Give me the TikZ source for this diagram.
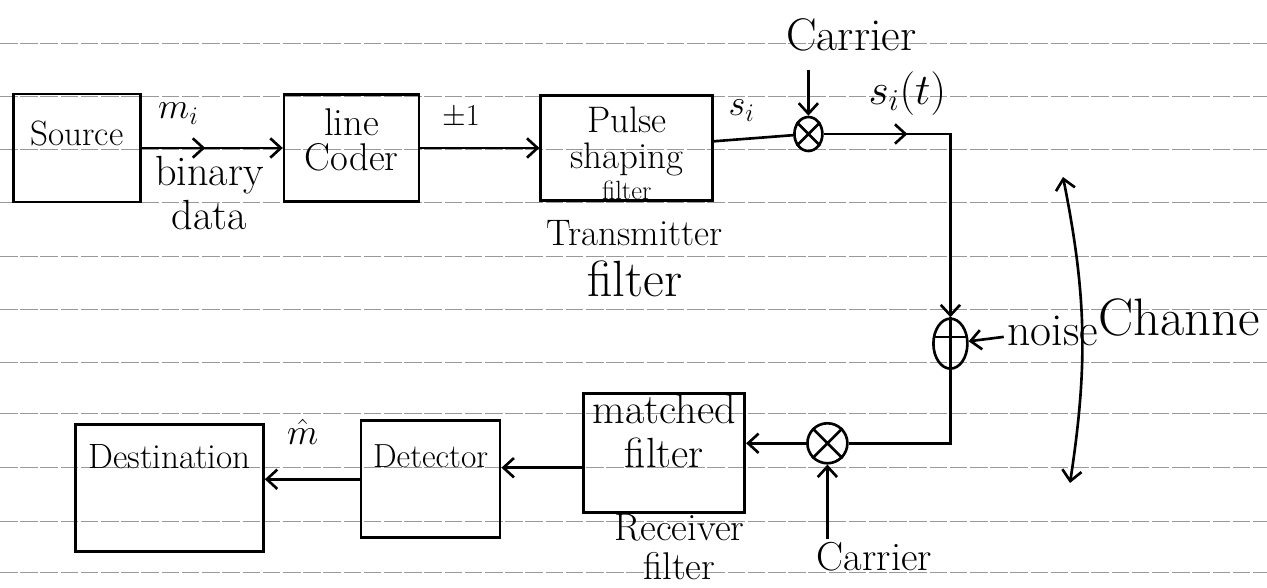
\documentclass[tikz,border=0pt]{standalone}
\usepackage{amsmath}
\usetikzlibrary{arrows.meta,positioning,shapes.geometric,decorations.markings}

\begin{document}
\begin{tikzpicture}[font=\fontsize{20}{23}\selectfont,
blk/.style={draw, line width=1.5pt, align=center, inner sep=2pt},
mixer/.style={draw, ellipse, line width=1.5pt, inner sep=0pt},
lbl/.style={align=center, inner sep=2pt},
wire/.style={line width=1.5pt},
arrow/.style={-{Straight Barb[length=6pt,width=11pt]}, line width=1.5pt},
midarrow/.style={postaction={decorate}, decoration={markings, mark=at position #1 with {\arrow{Straight Barb[length=6pt,width=11pt]}}}},
rule/.style={black!40, line width=0.5pt, dash pattern=on 10pt off 1.5pt}]
\useasboundingbox (0,0) rectangle (25.34,-11.76);
% ruled paper
\foreach \y in {43,96,149,202,256,309,362,413,467,521,572}
  \draw[rule] (0,{-0.02*\y}) -- (25.34,{-0.02*\y});
% transmitter
\node[blk, minimum width=2.54cm, minimum height=2.16cm] (source) at (1.54,-2.96) {Source\rule[-17pt]{0pt}{17pt}};
\node[blk, right=2.82cm of source, minimum width=2.70cm, minimum height=2.14cm, font=\fontsize{22}{20}\selectfont] (coder) {line\\Coder\rule[-10pt]{0pt}{10pt}};
\node[blk, right=2.38cm of coder, minimum width=3.44cm, minimum height=2.10cm, inner ysep=0pt, font=\fontsize{21}{20}\selectfont] (pulse) {\rule{0pt}{21pt}Pulse\\shaping\\[-2pt]{\fontsize{15}{15}\selectfont filter}};
\node[mixer, right=1.58cm of pulse, yshift=0.28cm, minimum width=0.56cm, minimum height=0.68cm] (mul1) {};
\node[lbl, below=0.3cm of pulse, xshift=0.16cm, font=\fontsize{29}{29}\selectfont] (txlbl) {{\fontsize{21}{29}\selectfont Transmitter}\\filter};
\node[lbl, above=1.22cm of mul1, xshift=0.86cm, font=\fontsize{26}{28}\selectfont] (carrtop) {Carrier};
% channel
\node[mixer, below=3.3cm of mul1, xshift=2.84cm, minimum width=0.68cm, minimum height=1.0cm] (adder) {};
\node[lbl, right=0.7cm of adder, yshift=0.26cm, font=\fontsize{26}{28}\selectfont] (noise) {noise};
\node[lbl, right=-0.16cm of noise, yshift=0.26cm, font=\fontsize{30}{32}\selectfont] (chan) {Channe};
\coordinate (chtop) at (21.26,-3.54);
\coordinate (chbot) at (21.40,-9.66);
% receiver
\node[mixer, below=1.04cm of adder, xshift=-2.46cm, minimum size=0.8cm] (mul2) {};
\node[blk, left=1.2cm of mul2, yshift=-0.2cm, minimum width=3.22cm, minimum height=2.38cm, inner ysep=0pt, font=\fontsize{24}{25}\selectfont] (matched) {matched\\filter\rule[-26pt]{0pt}{26pt}};
\node[blk, left=1.62cm of matched, yshift=-0.52cm, minimum width=2.78cm, minimum height=2.34cm, font=\fontsize{19}{22}\selectfont] (detector) {Detector\rule[-26pt]{0pt}{26pt}};
\node[blk, left=1.9cm of detector, yshift=-0.18cm, minimum width=3.76cm, minimum height=2.54cm] (dest) {Destination\rule[-36pt]{0pt}{36pt}};
\node[lbl, below=-2pt of matched, xshift=0.3cm, font=\fontsize{22}{22}\selectfont] (rxlbl) {Receiver\\filter};
\node[lbl, below=1.48cm of mul2, xshift=0.94cm, font=\fontsize{23}{25}\selectfont] (carrbot) {Carrier};
% mixer and adder marks
\draw[wire] (mul1.45) -- (mul1.225) (mul1.135) -- (mul1.315);
\draw[wire] (mul2.45) -- (mul2.225) (mul2.135) -- (mul2.315);
\draw[wire] (adder.north) -- (adder.south) (adder.160) -- (adder.20);
% connections
\draw[arrow, midarrow=0.45] (source) -- node[lbl, pos=0.26, above=0.38cm] {$m_i$} node[lbl, pos=0.48, below=2pt, font=\fontsize{24}{25}\selectfont] {binary\\data} (coder);
\draw[arrow] (coder) -- node[lbl, pos=0.34, above=0.3cm, font=\fontsize{18}{20}\selectfont] {$\pm 1$} (pulse);
\draw[wire] (pulse) -- node[lbl, pos=0.35, above=0.26cm] {$s_i$} (mul1);
\draw[arrow, shorten <=0.3cm] (carrtop.south -| mul1) -- (mul1);
\draw[arrow, midarrow=0.27] (mul1) -- node[lbl, pos=0.66, above=0.28cm, font=\fontsize{24}{26}\selectfont] {$s_i(t)$} (mul1 -| adder) -- (adder);
\draw[arrow] (noise) -- (adder);
\draw[{Straight Barb[length=6pt,width=11pt]}-{Straight Barb[length=6pt,width=11pt]}, line width=1.5pt] (chtop) to[bend left=10] (chbot);
\draw[wire] (adder) |- (mul2);
\draw[arrow] (carrbot.north -| mul2) -- (mul2);
\draw[arrow] (mul2) -- (mul2 -| matched.east);
\draw[arrow] (matched.190) -- (matched.190 -| detector.east);
\draw[arrow] (detector) -- node[lbl, pos=0.6, above=0.6cm, font=\fontsize{22}{24}\selectfont] {$\hat{m}$} (detector -| dest.east);
\end{tikzpicture}
\end{document}
